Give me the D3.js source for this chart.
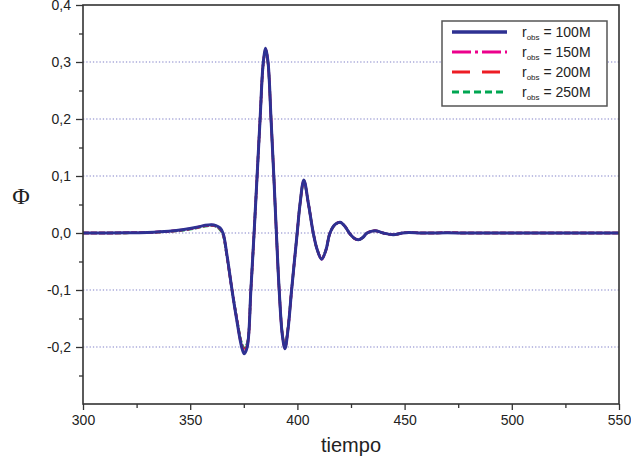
<!DOCTYPE html>
<html>
<head>
<meta charset="utf-8">
<script src="https://cdn.jsdelivr.net/npm/d3@7"></script>
<style>
  body { margin: 0; background: #fff; }
  text { font-family: "Liberation Sans", Arial, sans-serif; }
</style>
</head>
<body>
<div class="canvas"></div>
<script>
// data
const tiempo = [300, 320, 330, 340, 347, 353, 357, 360, 362, 363.9, 365.3, 367.2, 369.5, 371.6, 374, 375.2, 376.6, 378.3, 379.8, 381.2, 382.6, 384.1, 385.2, 386.3, 387.7, 389, 390.2, 391.5, 393, 394.2, 395.6, 397.3, 399.9, 401.2, 403, 405.2, 407.4, 409.3, 411.3, 413.3, 415.2, 417.6, 419.9, 422.1, 424.2, 426.4, 428.4, 430.5, 432.5, 436.2, 440, 444.7, 449, 452, 458, 470, 480, 500, 550];

const phi100 = [0, 0.0003, 0.001, 0.003, 0.006, 0.010, 0.0135, 0.0145, 0.013, 0.009, 0, -0.04, -0.1, -0.15, -0.2, -0.212, -0.2, -0.1, 0, 0.1, 0.2, 0.3, 0.324, 0.3, 0.2, 0.1, 0, -0.1, -0.18, -0.203, -0.17, -0.1, 0, 0.05, 0.093, 0.05, 0, -0.03, -0.046, -0.03, 0, 0.015, 0.019, 0.012, 0, -0.009, -0.012, -0.008, 0, 0.004, 0, -0.003, 0, 0.001, 0, 0.0004, 0, 0, 0];
const phi150 = [0, 0.0003, 0.001, 0.003, 0.0058, 0.0097, 0.013, 0.014, 0.0125, 0.008, -0.001, -0.041, -0.1, -0.149, -0.198, -0.209, -0.198, -0.1, 0, 0.1, 0.2, 0.299, 0.323, 0.299, 0.2, 0.1, 0, -0.1, -0.179, -0.202, -0.169, -0.1, 0, 0.05, 0.092, 0.05, 0, -0.03, -0.046, -0.03, 0, 0.015, 0.019, 0.012, 0, -0.009, -0.012, -0.008, 0, 0.004, 0, -0.003, 0, 0.001, 0, 0.0004, 0, 0, 0];
const phi200 = [0, 0.0002, 0.0009, 0.0028, 0.0055, 0.0093, 0.0125, 0.0135, 0.012, 0.007, -0.002, -0.042, -0.1, -0.148, -0.196, -0.206, -0.196, -0.1, 0, 0.1, 0.2, 0.298, 0.322, 0.298, 0.2, 0.1, 0, -0.1, -0.178, -0.201, -0.168, -0.1, 0, 0.05, 0.092, 0.05, 0, -0.03, -0.045, -0.03, 0, 0.015, 0.019, 0.012, 0, -0.009, -0.012, -0.008, 0, 0.004, 0, -0.003, 0, 0.001, 0, 0.0004, 0, 0, 0];
const phi250 = [0, 0.0002, 0.0008, 0.0026, 0.005, 0.0088, 0.012, 0.013, 0.0115, 0.006, -0.003, -0.043, -0.1, -0.147, -0.193, -0.202, -0.193, -0.1, 0, 0.1, 0.2, 0.297, 0.321, 0.297, 0.2, 0.1, 0, -0.1, -0.177, -0.2, -0.167, -0.1, 0, 0.05, 0.091, 0.05, 0, -0.03, -0.045, -0.03, 0, 0.015, 0.019, 0.012, 0, -0.009, -0.012, -0.008, 0, 0.004, 0, -0.003, 0, 0.001, 0, 0.0004, 0, 0, 0];

const radios = ["100M", "150M", "200M", "250M"];
const colores = ["#2e3192", "#ec008c", "#ed1c24", "#00a651"];
const xTicks = [300, 350, 400, 450, 500, 550];
const yTicks = [-0.2, -0.1, 0.0, 0.1, 0.2, 0.3, 0.4];

// dimensions
const dims = { width: 631, height: 465 };
const frame = { left: 83, top: 5, right: 619, bottom: 404 };

const svg = d3
  .select(".canvas")
  .append("svg")
  .attr("width", dims.width)
  .attr("height", dims.height);

const x = d3.scaleLinear().domain([300, 550]).range([frame.left, frame.right]);
const y = d3.scaleLinear().domain([-0.3, 0.4]).range([frame.bottom, frame.top]);

// decimal comma
const fmt = d3.formatLocale({ decimal: ",", thousands: ".", grouping: [3], currency: ["", ""], minus: "-" }).format(".1f");

// dotted grid lines
svg
  .append("g")
  .selectAll("line")
  .data(yTicks.filter(d => d < 0.35))
  .join("line")
  .attr("x1", frame.left)
  .attr("x2", frame.right)
  .attr("y1", d => y(d))
  .attr("y2", d => y(d))
  .attr("stroke", "#8080c8")
  .attr("stroke-width", 1.2)
  .attr("stroke-dasharray", "1.3,2");

// curves, 100M last so it sits on top
const line = d3
  .line()
  .x(d => x(d[0]))
  .y(d => y(d[1]))
  .curve(d3.curveCatmullRom.alpha(0.5));

const series = [phi100, phi150, phi200, phi250];
const dashes = [null, "19,4,3,4", "18,12", "7,4"];
const widths = [3, 2.5, 2.5, 2.5];

const plot = svg.append("g");
[3, 2, 1, 0].forEach(i => {
  plot
    .append("path")
    .datum(tiempo.map((t, k) => [t, series[i][k]]))
    .attr("d", line)
    .attr("fill", "none")
    .attr("stroke", colores[i])
    .attr("stroke-width", widths[i])
    .attr("stroke-dasharray", i === 0 ? null : "6,2");
});

// axes
const xAxis = d3
  .axisBottom(x)
  .tickValues(xTicks)
  .tickSize(6)
  .tickPadding(5)
  .tickFormat(d3.format("d"));
const xMinor = d3
  .axisBottom(x)
  .tickValues([325, 375, 425, 475, 525])
  .tickSize(4)
  .tickFormat("");
const yAxis = d3.axisLeft(y).tickValues(yTicks).tickSize(7).tickPadding(5).tickFormat(fmt);
const yMinor = d3
  .axisLeft(y)
  .tickValues([-0.25, -0.15, -0.05, 0.05, 0.15, 0.25, 0.35])
  .tickSize(4)
  .tickFormat("");

const styleAxis = g => {
  g.select(".domain").remove();
  g.selectAll("line").attr("stroke", "#333").attr("stroke-width", 1.3);
  g.selectAll("text").attr("fill", "#222").style("font-size", "14px");
};

svg.append("g").attr("transform", `translate(0,${frame.bottom})`).call(xAxis).call(styleAxis);
svg.append("g").attr("transform", `translate(0,${frame.bottom})`).call(xMinor).call(styleAxis);
svg.append("g").attr("transform", `translate(${frame.left},0)`).call(yAxis).call(styleAxis);
svg.append("g").attr("transform", `translate(${frame.left},0)`).call(yMinor).call(styleAxis);

// frame
svg
  .append("rect")
  .attr("x", frame.left)
  .attr("y", frame.top)
  .attr("width", frame.right - frame.left)
  .attr("height", frame.bottom - frame.top)
  .attr("fill", "none")
  .attr("stroke", "#333")
  .attr("stroke-width", 1.6);

// axis titles
svg
  .append("text")
  .attr("x", 351)
  .attr("y", 452)
  .attr("text-anchor", "middle")
  .attr("fill", "#222")
  .style("font-size", "20px")
  .text("tiempo");

svg
  .append("text")
  .attr("x", 21)
  .attr("y", 204)
  .attr("text-anchor", "middle")
  .attr("fill", "#222")
  .style("font-family", "'Liberation Serif', 'Times New Roman', serif")
  .style("font-size", "24px")
  .text("Φ");

// legend
const legendGroup = svg.append("g");
legendGroup
  .append("rect")
  .attr("x", 442)
  .attr("y", 21)
  .attr("width", 165)
  .attr("height", 85)
  .attr("fill", "#fff")
  .attr("stroke", "#555")
  .attr("stroke-width", 1.5);

radios.forEach((r, i) => {
  const yy = 32 + i * 20;
  legendGroup
    .append("line")
    .attr("x1", 452)
    .attr("x2", 507)
    .attr("y1", yy)
    .attr("y2", yy)
    .attr("stroke", colores[i])
    .attr("stroke-width", i === 0 ? 3.5 : 3)
    .attr("stroke-dasharray", dashes[i]);

  const t = legendGroup
    .append("text")
    .attr("x", 522)
    .attr("y", yy + 5)
    .attr("fill", "#222")
    .style("font-size", "14px");
  t.append("tspan").text("r");
  t.append("tspan").attr("dy", 3).style("font-size", "8px").text("obs");
  t.append("tspan").attr("dy", -3).text(" = " + r);
});
</script>
</body>
</html>
